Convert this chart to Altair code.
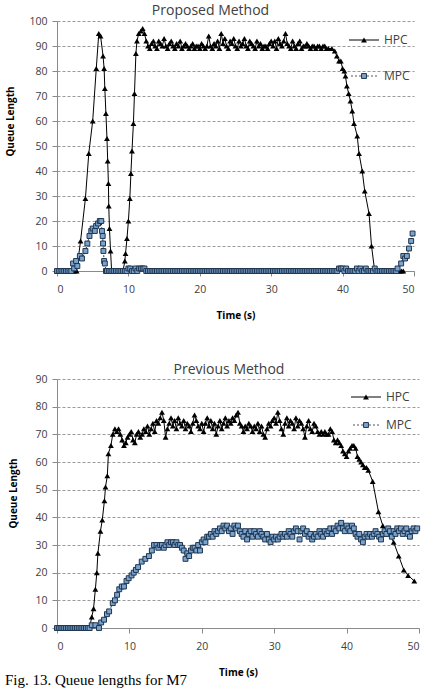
import altair as alt
import pandas as pd

# ---------------- data ----------------
# Proposed method, HPC
p_hpc_a_t = [0, 0.25, 0.5, 0.75, 1.0, 1.25, 1.5, 1.75, 2.0, 2.25, 2.5, 2.75]
p_hpc_a_v = [0, 0, 0, 0, 0, 0, 0, 0, 0, 0, 0, 0]
p_hpc_b_t = [3.3, 3.98, 4.45, 5.0, 5.5, 5.85, 6.1, 6.45, 6.6, 6.7, 6.85, 7.0, 7.1, 7.2, 7.25, 7.35, 7.5, 7.65,
             8.0, 8.25, 8.5, 8.75, 9.0, 9.25,
             9.5, 9.6, 9.8, 10.0, 10.2, 10.35, 10.5, 10.7, 10.85, 11.05, 11.2, 11.45, 11.75, 12.0, 12.25, 12.5, 12.75]
p_hpc_b_v = [12, 29, 47, 60, 81, 95, 94, 86, 81, 73, 63, 53, 44, 35, 26, 17, 8, 0,
             0, 0, 0, 0, 0, 0,
             4, 7, 13, 20, 29, 39, 48, 59, 71, 87, 92, 95, 96, 97, 95, 92, 90]
# plateau sampled every 0.25 s from 13.0 s to 38.0 s
p_hpc_plateau_start = 13.0
p_hpc_plateau_v = [89, 91, 92, 90, 89, 92, 91, 90, 93,
                   90, 89, 91, 92, 90, 89, 91, 90, 92, 89, 90, 91,
                   90, 89, 90, 91, 89, 90, 90, 89, 91, 90, 89, 90,
                   94, 90, 89, 91, 90, 92, 89, 95,
                   91, 93, 90, 89, 92, 91, 93, 90, 89, 92, 90, 91,
                   93, 90, 89, 92, 91, 90, 89, 92, 90, 91, 89, 90,
                   90, 89, 91, 92, 90, 92, 89, 93, 91, 90, 92, 95,
                   91, 90, 89, 92, 90, 89, 91, 92, 89, 90, 90, 91,
                   90, 89, 90, 90, 89, 90, 90, 89, 90, 90, 89, 89]
p_hpc_c_t = [38.5, 38.9, 39.2, 39.5, 39.75, 40.0, 40.25, 40.4, 40.6, 40.85, 41.1, 41.35, 41.6, 42.05, 42.3,
             42.75, 43.1, 43.7, 44.05, 44.5,
             44.75, 45.0, 45.25, 45.5, 45.75, 46.0, 46.25, 46.5, 46.75, 47.0, 47.25, 47.5, 47.75, 48.0, 48.25, 48.5]
p_hpc_c_v = [89, 88, 86, 84, 84, 81, 80, 78, 74, 71, 68, 64, 59, 54, 47,
             40, 32, 23, 10, 0,
             0, 0, 0, 0, 0, 0, 0, 0, 0, 0, 0, 0, 0, 0, 0, 0]

# Proposed method, MPC
p_mpc_a_t = [0, 0.25, 0.5, 0.75, 1.0, 1.25, 1.5, 1.75, 2.0,
             2.25, 2.4, 2.67, 2.85, 3.2, 3.5, 3.98, 4.25, 4.55, 4.8, 5.0, 5.3, 5.48, 5.75, 6.0, 6.2,
             6.3, 6.4, 6.45, 6.5, 6.6, 6.7, 6.85]
p_mpc_a_v = [0, 0, 0, 0, 0, 0, 0, 0, 0,
             3, 1, 4, 2, 6, 5, 8, 11, 14, 16, 17, 16, 18, 19, 20, 20,
             16, 14, 11, 8, 4, 3, 0]
# sampled every 0.25 s from 7.0 s to 47.5 s
p_mpc_mid_start = 7.0
p_mpc_mid_v = [0, 0, 0, 0, 0, 0, 0, 0, 0, 0, 0, 0, 1, 1, 0, 0, 1, 0, 1, 1,
               1, 1, 0, 0, 0, 0, 0, 0, 0, 0, 0, 0, 0, 0, 0, 0, 0, 0, 0, 0,
               0, 0, 0, 0, 0, 0, 0, 0, 0, 0, 0, 0, 0, 0, 0, 0, 0, 0, 0, 0,
               0, 0, 0, 0, 0, 0, 0, 0, 0, 0, 0, 0, 0, 0, 0, 0, 0, 0, 0, 0,
               0, 0, 0, 0, 0, 0, 0, 0, 0, 0, 0, 0, 0, 0, 0, 0, 0, 0, 0, 0,
               0, 0, 0, 0, 0, 0, 0, 0, 0, 0, 0, 0, 0, 0, 0, 0, 0, 0, 0, 0,
               0, 0, 0, 0, 0, 0, 0, 0, 0, 0, 1, 1, 1, 0, 1, 0, 0, 0, 0, 0,
               1, 0, 1, 0, 0, 1, 0, 0, 0, 0, 1, 0, 0, 0, 0, 0, 0, 0, 0, 0,
               0, 0, 0]
p_mpc_b_t = [47.7, 48.2, 48.5, 48.75, 49.0, 49.3, 49.6, 49.8]
p_mpc_b_v = [1, 3, 6, 5, 6, 9, 12, 15]

# Previous method, HPC
q_hpc_a_t = [0, 0.25, 0.5, 0.75, 1.0, 1.25, 1.5, 1.75, 2.0, 2.25, 2.5, 2.75, 3.0, 3.25, 3.5, 3.75, 4.0, 4.25, 4.5,
             4.8, 5.05, 5.3, 5.5, 5.65, 6.0, 6.25, 6.55, 6.7, 6.95, 7.1, 7.45, 7.7]
q_hpc_a_v = [0, 0, 0, 0, 0, 0, 0, 0, 0, 0, 0, 0, 0, 0, 0, 0, 0, 0, 0,
             4, 7, 14, 20, 27, 35, 39, 46, 51, 55, 63, 66, 70]
# sampled every 0.25 s from 8.0 s to 43.0 s
q_hpc_mid_start = 8.0
q_hpc_mid_v = [72, 71, 72, 70, 68, 66, 67, 69, 70,
               71, 68, 67, 70, 71, 69, 70, 72,
               71, 73, 70, 72, 74, 71, 75, 74,
               76, 78, 75, 69, 72, 74, 76, 73,
               75, 72, 76, 74, 73, 75, 72, 74,
               73, 71, 74, 77, 75, 73, 72, 74,
               71, 74, 76, 73, 75, 72, 74, 70,
               73, 75, 72, 74, 76, 73, 75, 74,
               76, 75, 77, 78, 74, 73, 71, 73,
               72, 74, 73, 71, 73, 72, 74, 71,
               73, 70, 69, 72, 74, 73, 75, 76,
               74, 78, 75, 72, 70, 74, 76, 73,
               75, 74, 72, 76, 73, 75, 74, 72,
               69, 73, 75, 72, 71, 74, 73, 71,
               70, 71, 70, 71, 70, 70, 72, 71,
               68, 67, 68, 67, 66, 64, 63, 62,
               64, 65, 66, 66, 65, 62, 61, 60,
               59, 58, 58, 57]
q_hpc_b_t = [43.6, 44.4, 45.0, 45.9, 46.5, 47.2, 47.9, 48.5, 49.35]
q_hpc_b_v = [53, 42, 37, 34, 31, 26, 21, 19, 17]

# Previous method, MPC
q_mpc_a_t = [0, 0.25, 0.5, 0.75, 1.0, 1.25, 1.5, 1.75, 2.0, 2.25, 2.5, 2.75, 3.0, 3.25, 3.5, 3.75, 4.0, 4.25, 4.5,
             4.8, 5.3, 5.8, 6.1, 6.5, 6.9, 7.2, 7.7, 8.0, 8.3, 8.6, 8.95, 9.25, 9.6, 9.9, 10.3, 10.6, 10.9,
             11.2, 11.7, 12.2, 12.7, 13.1, 13.4]
q_mpc_a_v = [0, 0, 0, 0, 0, 0, 0, 0, 0, 0, 0, 0, 0, 0, 0, 0, 0, 0, 0,
             1, 1, 0, 2, 3, 5, 6, 9, 10, 12, 14, 15, 15, 17, 18, 19, 20, 21,
             22, 24, 25, 26, 28, 30]
# sampled every 0.25 s from 13.75 s to 49.75 s
q_mpc_mid_start = 13.75
q_mpc_mid_v = [30, 29, 30, 30, 29, 30,
               31, 30, 31, 31, 30, 31, 30, 30,
               29, 28, 25, 27, 26, 28, 29, 29,
               28, 30, 28, 31, 32, 31, 33, 33,
               34, 33, 35, 34, 35, 36, 35, 37,
               36, 37, 35, 36, 34, 37, 36, 37,
               35, 34, 33, 35, 32, 34, 35, 33,
               35, 34, 33, 35, 34, 33, 32, 34,
               32, 31, 33, 32, 33, 32, 33, 34,
               33, 34, 33, 35, 34, 33, 35, 36,
               35, 32, 35, 36, 34, 35, 33, 34,
               32, 33, 34, 33, 35, 34, 33, 35,
               34, 35, 36, 34, 36, 35, 37, 36,
               38, 36, 35, 37, 36, 35, 37, 36,
               34, 33, 34, 32, 31, 33, 34, 33,
               34, 33, 34, 35, 34, 33, 32, 34,
               35, 34, 36, 35, 33, 35, 34, 36,
               35, 36, 34, 35, 36, 34, 33, 35,
               36, 35, 36]

x_ticks = [0, 10, 20, 30, 40, 50]
top_y_ticks = [0, 10, 20, 30, 40, 50, 60, 70, 80, 90, 100]
bot_y_ticks = [0, 10, 20, 30, 40, 50, 60, 70, 80, 90]
series_names = ["HPC", "MPC"]
titles = ["Proposed Method", "Previous Method"]
caption = "Fig. 13. Queue lengths for M7"


def grid_times(start, values, step=0.25):
    return [round(start + step * i, 3) for i in range(len(values))]


def frame(parts, name):
    rows = []
    for ts, vs in parts:
        for t, v in zip(ts, vs):
            rows.append({"t": t, "v": v, "s": name})
    return pd.DataFrame(rows)


top_hpc = frame([(p_hpc_a_t, p_hpc_a_v), (p_hpc_b_t, p_hpc_b_v),
                 (grid_times(p_hpc_plateau_start, p_hpc_plateau_v), p_hpc_plateau_v),
                 (p_hpc_c_t, p_hpc_c_v)], "HPC")
top_mpc = frame([(p_mpc_a_t, p_mpc_a_v),
                 (grid_times(p_mpc_mid_start, p_mpc_mid_v), p_mpc_mid_v),
                 (p_mpc_b_t, p_mpc_b_v)], "MPC")
bot_hpc = frame([(q_hpc_a_t, q_hpc_a_v),
                 (grid_times(q_hpc_mid_start, q_hpc_mid_v), q_hpc_mid_v),
                 (q_hpc_b_t, q_hpc_b_v)], "HPC")
bot_mpc = frame([(q_mpc_a_t, q_mpc_a_v),
                 (grid_times(q_mpc_mid_start, q_mpc_mid_v), q_mpc_mid_v)], "MPC")

FONT = "Open Sans"
TXT = "#404040"
MPC_FILL = "#7BA3CC"
MPC_STROKE = "#1E3550"


def panel(hpc, mpc, title, ymax, yticks, width, height, title_x, title_y, title_off, title_dx,
          leg_x, leg_y1, leg_y2):
    xs = alt.X("t:Q", scale=alt.Scale(domain=[0, 50], nice=False, padding=0),
               axis=alt.Axis(values=x_ticks, title="Time (s)", grid=False, tickSize=5,
                             labelPadding=8, titlePadding=16, domainColor="#8a8a8a",
                             tickColor="#8a8a8a", labelOverlap=False))
    ys = alt.Y("v:Q", scale=alt.Scale(domain=[0, ymax], nice=False, padding=0),
               axis=alt.Axis(values=yticks, title="Queue Length", grid=True, gridDash=[3, 2],
                             gridColor="#9a9a9a", tickSize=5, labelPadding=5,
                             domainColor="#8a8a8a", tickColor="#8a8a8a",
                             titleX=title_x, titleY=title_y, labelOverlap=False))
    hl = alt.Chart(hpc).mark_line(color="black", strokeWidth=1).encode(x=xs, y=ys, order="t:Q")
    hp = alt.Chart(hpc).mark_point(shape="triangle-up", filled=True, color="black", size=34,
                                   opacity=1).encode(x=xs, y=ys)
    ml = alt.Chart(mpc).mark_line(color=MPC_STROKE, strokeWidth=1, strokeDash=[2, 2]).encode(
        x=xs, y=ys, order="t:Q")
    mp = alt.Chart(mpc).mark_point(shape="square", filled=True, fill=MPC_FILL, stroke=MPC_STROKE,
                                   strokeWidth=1, size=24, opacity=1).encode(x=xs, y=ys)
    one = alt.Data(values=[{"k": 1}])
    leg = [
        alt.Chart(one).mark_rule(color="black", strokeWidth=1).encode(
            x=alt.value(leg_x), x2=alt.value(leg_x + 30), y=alt.value(leg_y1)),
        alt.Chart(one).mark_point(shape="triangle-up", filled=True, color="black", size=34,
                                  opacity=1).encode(x=alt.value(leg_x + 15), y=alt.value(leg_y1)),
        alt.Chart(one).mark_text(align="left", baseline="middle", font=FONT, fontSize=12,
                                 color=TXT).encode(x=alt.value(leg_x + 35), y=alt.value(leg_y1),
                                                   text=alt.value(series_names[0])),
        alt.Chart(one).mark_rule(color="#555555", strokeWidth=1, strokeDash=[2, 2]).encode(
            x=alt.value(leg_x + 2), x2=alt.value(leg_x + 30), y=alt.value(leg_y2)),
        alt.Chart(one).mark_point(shape="square", filled=True, fill=MPC_FILL, stroke=MPC_STROKE,
                                  strokeWidth=1, size=24, opacity=1).encode(
            x=alt.value(leg_x + 15), y=alt.value(leg_y2)),
        alt.Chart(one).mark_text(align="left", baseline="middle", font=FONT, fontSize=12,
                                 color=TXT).encode(x=alt.value(leg_x + 35), y=alt.value(leg_y2),
                                                   text=alt.value(series_names[1])),
    ]
    return alt.layer(hl, hp, ml, mp, *leg).properties(
        width=width, height=height,
        title=alt.TitleParams(title, font=FONT, fontSize=14, fontWeight="normal", color=TXT,
                              offset=title_off, dx=title_dx))


top = panel(top_hpc, top_mpc, titles[0], 100, top_y_ticks, 357, 250, -42, 100, -2, -25,
            292, 19, 55)
bot = panel(bot_hpc, bot_mpc, titles[1], 90, bot_y_ticks, 362, 249, -39, 114, -3, -9,
            294, 18, 46)

chart = alt.vconcat(top, bot, spacing=42).properties(
    padding={"left": 5, "top": 4, "right": 0, "bottom": 0},
    title=alt.TitleParams(caption, orient="bottom", anchor="start", font="Liberation Serif",
                          fontSize=15, fontWeight="normal", color="black", offset=-5),
).configure_view(stroke=None).configure_axis(
    labelFont=FONT, labelFontSize=10.5, labelColor=TXT,
    titleFont=FONT, titleFontSize=10, titleFontWeight="bold", titleColor="black",
)

chart.save("out.html", embed_options={"renderer": "svg", "actions": False})
